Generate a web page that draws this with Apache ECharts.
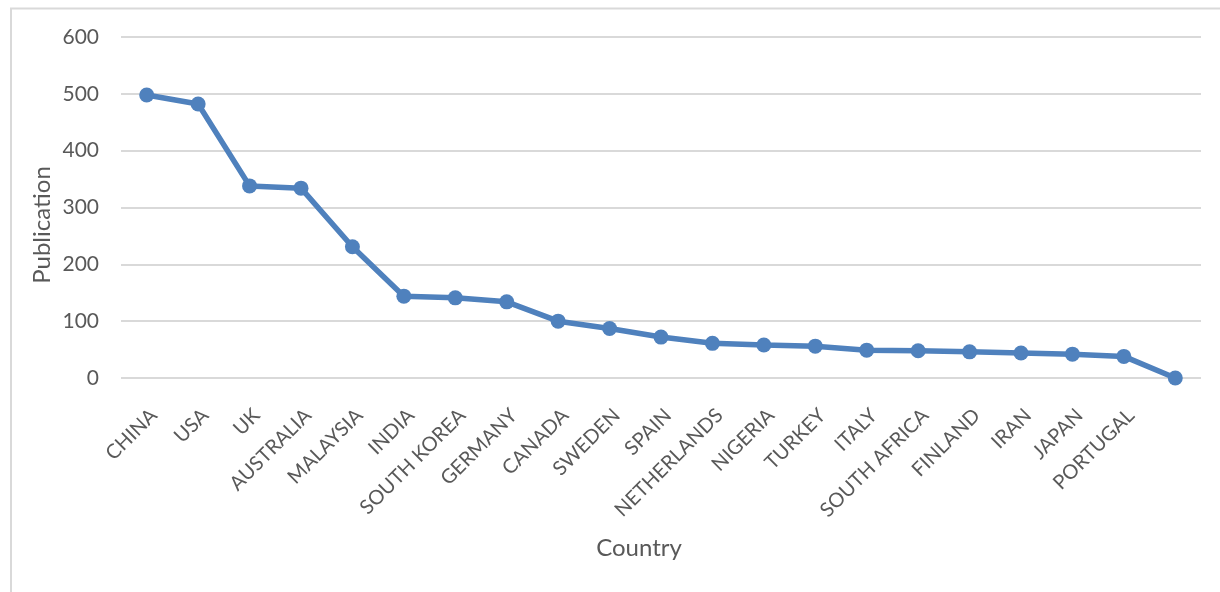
<!DOCTYPE html>
<html>
<head>
<meta charset="utf-8">
<script src="https://cdn.jsdelivr.net/npm/echarts@6/dist/echarts.min.js"></script>
<style>
  html, body { margin: 0; padding: 0; background: #ffffff; }
  #chart { width: 1220px; height: 592px; }
</style>
</head>
<body>
<div id="chart"></div>
<script>
// Publications per country
const countries = ['CHINA', 'USA', 'UK', 'AUSTRALIA', 'MALAYSIA', 'INDIA', 'SOUTH KOREA',
  'GERMANY', 'CANADA', 'SWEDEN', 'SPAIN', 'NETHERLANDS', 'NIGERIA', 'TURKEY', 'ITALY',
  'SOUTH AFRICA', 'FINLAND', 'IRAN', 'JAPAN', 'PORTUGAL', ''];
const publications = [498, 482, 338, 334, 231, 144, 141, 134, 100, 87, 72, 61, 58, 56, 49,
  48, 46, 44, 42, 38, 0];
const yTicks = { min: 0, max: 600, interval: 100 };

const textColor = '#595959';
const fontFamily = 'Lato, "Open Sans", sans-serif';

const chart = echarts.init(document.getElementById('chart'), null, { renderer: 'canvas' });
chart.setOption({
  backgroundColor: '#ffffff',
  animation: false,
  grid: { left: 121, right: 19, top: 37, bottom: 214, containLabel: false },
  graphic: [
    // chart frame (top and left edges)
    { type: 'polyline', silent: true,
      shape: { points: [[11, 600], [11, 8.5], [1230, 8.5]] },
      style: { stroke: '#D9D9D9', lineWidth: 2, fill: null } },
    // axis titles
    { type: 'text', silent: true,
      x: 42, y: 225, rotation: Math.PI / 2,
      style: { text: 'Publication', fill: textColor, font: '24px ' + fontFamily,
        textAlign: 'center', textVerticalAlign: 'middle' } },
    { type: 'text', silent: true,
      x: 639, y: 548,
      style: { text: 'Country', fill: textColor, font: '24px ' + fontFamily,
        textAlign: 'center', textVerticalAlign: 'middle' } }
  ],
  xAxis: {
    type: 'category',
    data: countries,
    boundaryGap: true,
    axisLine: { show: false },
    axisTick: { show: false },
    axisLabel: {
      interval: 0, rotate: 45, margin: 27, verticalAlign: 'top',
      color: textColor, fontFamily: fontFamily, fontSize: 20
    }
  },
  yAxis: {
    type: 'value',
    min: yTicks.min, max: yTicks.max, interval: yTicks.interval,
    axisLine: { show: false },
    axisTick: { show: false },
    axisLabel: { color: textColor, fontFamily: fontFamily, fontSize: 21, margin: 22 },
    splitLine: { lineStyle: { color: '#D9D9D9', width: 2 } }
  },
  series: [{
    type: 'line',
    data: publications,
    symbol: 'circle',
    symbolSize: 15,
    lineStyle: { color: '#4F81BD', width: 5.5 },
    itemStyle: { color: '#4F81BD' }
  }]
});
</script>
</body>
</html>
